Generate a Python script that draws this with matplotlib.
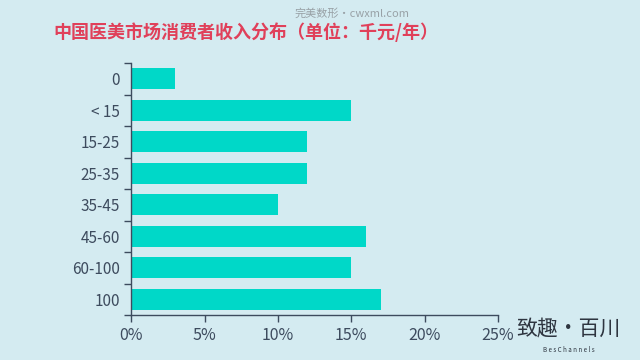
import matplotlib.pyplot as plt
import numpy as np
from matplotlib.ticker import FixedLocator, FuncFormatter

plt.rcParams['font.family'] = ['Noto Sans CJK SC', 'DejaVu Sans']

categories = ['0', '< 15', '15-25', '25-35', '35-45', '45-60', '60-100', '100']
shares = [3, 15, 12, 12, 10, 16, 15, 17]
xticks = [0, 5, 10, 15, 20, 25]

BG = '#d4ebf1'
BAR = '#00d8c8'
TXT = '#3d4b5e'


def main():
    fig = plt.figure(figsize=(6.4, 3.6), dpi=100, facecolor=BG)
    ax = fig.add_axes([0.205, 0.125, 0.573, 0.70], facecolor=BG)

    y = np.arange(len(categories))
    ax.barh(y, shares, height=0.68, color=BAR, zorder=2)
    ax.set_ylim(len(categories) - 0.5, -0.5)
    ax.set_xlim(0, 25)

    # labels at centers, tick marks at category boundaries
    ax.yaxis.set_major_locator(FixedLocator(np.arange(-0.5, len(categories), 1)))
    ax.yaxis.set_major_formatter(FuncFormatter(lambda v, p: ''))
    ax.yaxis.set_minor_locator(FixedLocator(y))
    ax.set_yticklabels(categories, minor=True)
    ax.tick_params(axis='y', which='major', length=5, width=1, color=TXT, direction='out')
    ax.tick_params(axis='y', which='minor', length=0, pad=8, labelsize=11, labelcolor=TXT)

    ax.set_xticks(xticks)
    ax.set_xticklabels([f'{t}%' for t in xticks])
    ax.tick_params(axis='x', length=5, width=1, color=TXT, labelsize=11.5, labelcolor=TXT, pad=4)

    for s in ['top', 'right']:
        ax.spines[s].set_visible(False)
    for s in ['left', 'bottom']:
        ax.spines[s].set_color(TXT)
        ax.spines[s].set_linewidth(1)

    fig.text(0.084, 0.912, '中国医美市场消费者收入分布（单位：千元/年）', fontsize=13,
             fontweight='bold', color='#e0405a', va='center')
    fig.text(0.46, 0.962, '完美数形·cwxml.com', fontsize=8, color='#8a8f94',
             alpha=0.8, va='center')

    fig.text(0.888, 0.085, '致趣·百川', fontsize=15, color='#2e3540',
             ha='center', va='center')
    fig.text(0.888, 0.027, 'B e s C h a n n e l s', fontsize=4.5, color='#2e3540',
             ha='center', va='center')

    fig.savefig('out.png', dpi=100, facecolor=BG)
    plt.close(fig)


if __name__ == '__main__':
    main()
